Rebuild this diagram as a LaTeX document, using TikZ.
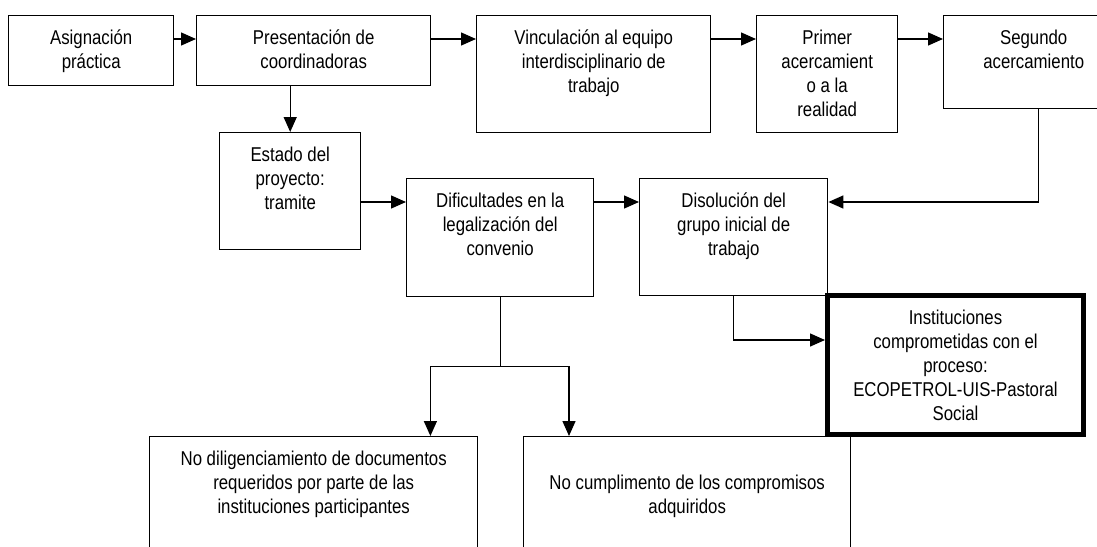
\documentclass[tikz,border=0pt]{standalone}
\usepackage{fontspec}
\setmainfont[FakeStretch=0.84]{Liberation Sans}
\usepackage{tikz}
\usetikzlibrary{arrows.meta}
\newcommand{\texto}[3]{\parbox[c][#2][t]{#1}{\centering\rule{0pt}{14.5pt}#3}}
\tikzset{
caja/.style={draw, line width=.7pt, inner sep=0pt, anchor=north west},
fleche/.style={line width=.7pt, -{Triangle[length=7.5pt,width=6.5pt]}}
}
\begin{document}
\begin{tikzpicture}[x=0.5pt,y=-0.5pt,font=\fontsize{10}{12}\selectfont]
\useasboundingbox (0,0) rectangle (1097,546);
\clip (0,0) rectangle (1097,546);
\node [caja] (asig) at (8,15) {\texto{82.5pt}{35pt}{Asignación\\práctica}};
\node [caja] (pres) at (196,15) {\texto{117pt}{35pt}{Presentación de\\coordinadoras}};
\node [caja] (vinc) at (476,15) {\texto{117pt}{58.5pt}{Vinculación al equipo\\interdisciplinario de\\trabajo}};
\node [caja] (prim) at (756,15) {\texto{70.5pt}{58.5pt}{Primer\\acercamient\\o a la\\realidad}};
\node [caja] (seg) at (943,15) {\texto{90pt}{46.5pt}{Segundo\\acercamiento}};
\node [caja] (est) at (219,132) {\texto{70.5pt}{58.5pt}{Estado del\\proyecto:\\tramite}};
\node [caja] (dif) at (406,178) {\texto{93.5pt}{59pt}{Dificultades en la\\legalización del\\convenio}};
\node [caja] (dis) at (639,178) {\texto{94pt}{58.5pt}{Disolución del\\grupo inicial de\\trabajo}};
\node [caja, line width=2.5pt] (inst) at (825,293) {\texto{128pt}{69.5pt}{Instituciones\\comprometidas con el\\proceso:\\ECOPETROL-UIS-Pastoral\\Social}};
\node [caja] (nodil) at (149,436) {\texto{164pt}{100pt}{No diligenciamiento de documentos\\requeridos por parte de las\\instituciones participantes}};
\node [caja] (nocump) at (523,436) {\texto{163.5pt}{100pt}{\mbox{}\\No cumplimento de los compromisos\\adquiridos}};
\draw [fleche] ([yshift=-12pt]asig.north east) -- ([yshift=-12pt]pres.north west);
\draw [fleche] ([yshift=-12pt]pres.north east) -- ([yshift=-12pt]vinc.north west);
\draw [fleche] ([yshift=-12pt]vinc.north east) -- ([yshift=-12pt]prim.north west);
\draw [fleche] ([yshift=-12pt]prim.north east) -- ([yshift=-12pt]seg.north west);
\draw [fleche] (pres.south -| est.north) -- (est.north);
\coordinate (d1) at ([yshift=-12pt]dif.north west);
\draw [fleche] (est.east |- d1) -- (d1);
\draw [fleche] ([yshift=-12pt]dif.north east) -- ([yshift=-12pt]dis.north west);
\draw [fleche] ([xshift=2.5pt]seg.south) |- ([yshift=-12pt]dis.north east);
\draw [fleche] (dis.south) |- ([yshift=-23.5pt]inst.north west);
\coordinate (fork) at ([yshift=-34.5pt]dif.south);
\draw [line width=.7pt] (dif.south) -- (fork);
\draw [fleche] (fork) -| ([xshift=-24pt]nodil.north east);
\draw [fleche] (fork) -| ([xshift=23pt]nocump.north west);
\end{tikzpicture}
\end{document}
